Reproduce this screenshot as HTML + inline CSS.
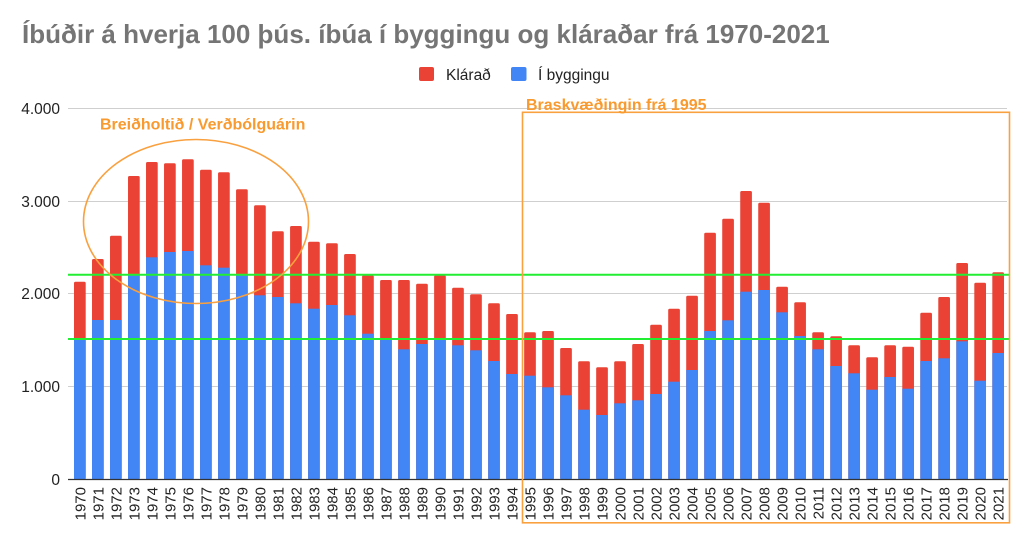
<!DOCTYPE html>
<html><head><meta charset="utf-8"><style>
html,body{margin:0;padding:0;background:#fff;}
svg{display:block;font-family:"Liberation Sans",Arial,sans-serif;}
.r{fill:#EA4335}.b{fill:#4285F4}
.xl{font-size:15px;fill:#222;text-anchor:end}
.yl{font-size:15.5px;fill:#222;text-anchor:end}
</style></head><body>
<svg width="1024" height="536" viewBox="0 0 1024 536" xmlns="http://www.w3.org/2000/svg">
<rect width="1024" height="536" fill="#fff"/>
<text x="22" y="43" font-size="26" font-weight="bold" fill="#757575">Íbúðir á hverja 100 þús. íbúa í byggingu og kláraðar frá 1970-2021</text>
<rect x="419" y="67" width="15" height="14" rx="2" fill="#EA4335"/>
<text x="446" y="80" font-size="15.5" fill="#222">Klárað</text>
<rect x="511" y="67" width="15.5" height="14" rx="2" fill="#4285F4"/>
<text x="538" y="80" font-size="15.5" fill="#222">Í byggingu</text>
<g stroke="#cfcfcf" stroke-width="1">
<line x1="68" y1="108.5" x2="1007" y2="108.5"/>
<line x1="68" y1="201.5" x2="1007" y2="201.5"/>
<line x1="68" y1="293.5" x2="1007" y2="293.5"/>
<line x1="68" y1="386.5" x2="1007" y2="386.5"/>
</g>
<text class="yl" x="60" y="114">4.000</text>
<text class="yl" x="60" y="207">3.000</text>
<text class="yl" x="60" y="299">2.000</text>
<text class="yl" x="60" y="392">1.000</text>
<text class="yl" x="60" y="485">0</text>
<g>
<rect class="r" x="74.00" y="281.7" width="11.7" height="197.3" rx="1.5"/><rect class="b" x="74.00" y="340" width="11.7" height="139"/>
<rect class="r" x="92.01" y="259" width="11.7" height="220" rx="1.5"/><rect class="b" x="92.01" y="320" width="11.7" height="159"/>
<rect class="r" x="110.01" y="235.7" width="11.7" height="243.3" rx="1.5"/><rect class="b" x="110.01" y="320" width="11.7" height="159"/>
<rect class="r" x="128.02" y="176" width="11.7" height="303" rx="1.5"/><rect class="b" x="128.02" y="274.3" width="11.7" height="204.7"/>
<rect class="r" x="146.02" y="162" width="11.7" height="317" rx="1.5"/><rect class="b" x="146.02" y="257.3" width="11.7" height="221.7"/>
<rect class="r" x="164.03" y="163.3" width="11.7" height="315.7" rx="1.5"/><rect class="b" x="164.03" y="252" width="11.7" height="227"/>
<rect class="r" x="182.04" y="159.3" width="11.7" height="319.7" rx="1.5"/><rect class="b" x="182.04" y="251" width="11.7" height="228"/>
<rect class="r" x="200.04" y="169.7" width="11.7" height="309.3" rx="1.5"/><rect class="b" x="200.04" y="265.3" width="11.7" height="213.7"/>
<rect class="r" x="218.05" y="172.3" width="11.7" height="306.7" rx="1.5"/><rect class="b" x="218.05" y="267.7" width="11.7" height="211.3"/>
<rect class="r" x="236.05" y="189.3" width="11.7" height="289.7" rx="1.5"/><rect class="b" x="236.05" y="274" width="11.7" height="205"/>
<rect class="r" x="254.06" y="205.3" width="11.7" height="273.7" rx="1.5"/><rect class="b" x="254.06" y="295.3" width="11.7" height="183.7"/>
<rect class="r" x="272.07" y="231.3" width="11.7" height="247.7" rx="1.5"/><rect class="b" x="272.07" y="297" width="11.7" height="182"/>
<rect class="r" x="290.07" y="226" width="11.7" height="253" rx="1.5"/><rect class="b" x="290.07" y="303.3" width="11.7" height="175.7"/>
<rect class="r" x="308.08" y="241.7" width="11.7" height="237.3" rx="1.5"/><rect class="b" x="308.08" y="308.7" width="11.7" height="170.3"/>
<rect class="r" x="326.08" y="243.3" width="11.7" height="235.7" rx="1.5"/><rect class="b" x="326.08" y="305" width="11.7" height="174"/>
<rect class="r" x="344.09" y="254" width="11.7" height="225" rx="1.5"/><rect class="b" x="344.09" y="315.3" width="11.7" height="163.7"/>
<rect class="r" x="362.10" y="275.3" width="11.7" height="203.7" rx="1.5"/><rect class="b" x="362.10" y="333.7" width="11.7" height="145.3"/>
<rect class="r" x="380.10" y="280" width="11.7" height="199" rx="1.5"/><rect class="b" x="380.10" y="339" width="11.7" height="140"/>
<rect class="r" x="398.11" y="280" width="11.7" height="199" rx="1.5"/><rect class="b" x="398.11" y="349.3" width="11.7" height="129.7"/>
<rect class="r" x="416.11" y="283.7" width="11.7" height="195.3" rx="1.5"/><rect class="b" x="416.11" y="344" width="11.7" height="135"/>
<rect class="r" x="434.12" y="275.3" width="11.7" height="203.7" rx="1.5"/><rect class="b" x="434.12" y="339" width="11.7" height="140"/>
<rect class="r" x="452.13" y="287.7" width="11.7" height="191.3" rx="1.5"/><rect class="b" x="452.13" y="345.3" width="11.7" height="133.7"/>
<rect class="r" x="470.13" y="294.3" width="11.7" height="184.7" rx="1.5"/><rect class="b" x="470.13" y="350.3" width="11.7" height="128.7"/>
<rect class="r" x="488.14" y="303.3" width="11.7" height="175.7" rx="1.5"/><rect class="b" x="488.14" y="361" width="11.7" height="118"/>
<rect class="r" x="506.14" y="314" width="11.7" height="165" rx="1.5"/><rect class="b" x="506.14" y="374" width="11.7" height="105"/>
<rect class="r" x="524.15" y="332.3" width="11.7" height="146.7" rx="1.5"/><rect class="b" x="524.15" y="375.7" width="11.7" height="103.3"/>
<rect class="r" x="542.16" y="331" width="11.7" height="148" rx="1.5"/><rect class="b" x="542.16" y="387.3" width="11.7" height="91.7"/>
<rect class="r" x="560.16" y="348" width="11.7" height="131" rx="1.5"/><rect class="b" x="560.16" y="395.3" width="11.7" height="83.7"/>
<rect class="r" x="578.17" y="361.3" width="11.7" height="117.7" rx="1.5"/><rect class="b" x="578.17" y="409.7" width="11.7" height="69.3"/>
<rect class="r" x="596.17" y="367.3" width="11.7" height="111.7" rx="1.5"/><rect class="b" x="596.17" y="415" width="11.7" height="64"/>
<rect class="r" x="614.18" y="361.3" width="11.7" height="117.7" rx="1.5"/><rect class="b" x="614.18" y="403.3" width="11.7" height="75.7"/>
<rect class="r" x="632.19" y="344" width="11.7" height="135" rx="1.5"/><rect class="b" x="632.19" y="400.3" width="11.7" height="78.7"/>
<rect class="r" x="650.19" y="324.7" width="11.7" height="154.3" rx="1.5"/><rect class="b" x="650.19" y="394" width="11.7" height="85"/>
<rect class="r" x="668.20" y="308.7" width="11.7" height="170.3" rx="1.5"/><rect class="b" x="668.20" y="381.7" width="11.7" height="97.3"/>
<rect class="r" x="686.20" y="295.7" width="11.7" height="183.3" rx="1.5"/><rect class="b" x="686.20" y="370" width="11.7" height="109"/>
<rect class="r" x="704.21" y="232.7" width="11.7" height="246.3" rx="1.5"/><rect class="b" x="704.21" y="331" width="11.7" height="148"/>
<rect class="r" x="722.22" y="218.7" width="11.7" height="260.3" rx="1.5"/><rect class="b" x="722.22" y="320.3" width="11.7" height="158.7"/>
<rect class="r" x="740.22" y="191" width="11.7" height="288" rx="1.5"/><rect class="b" x="740.22" y="291.7" width="11.7" height="187.3"/>
<rect class="r" x="758.23" y="202.7" width="11.7" height="276.3" rx="1.5"/><rect class="b" x="758.23" y="290" width="11.7" height="189"/>
<rect class="r" x="776.23" y="286.7" width="11.7" height="192.3" rx="1.5"/><rect class="b" x="776.23" y="312.3" width="11.7" height="166.7"/>
<rect class="r" x="794.24" y="302.3" width="11.7" height="176.7" rx="1.5"/><rect class="b" x="794.24" y="336" width="11.7" height="143"/>
<rect class="r" x="812.25" y="332.3" width="11.7" height="146.7" rx="1.5"/><rect class="b" x="812.25" y="349.3" width="11.7" height="129.7"/>
<rect class="r" x="830.25" y="336.3" width="11.7" height="142.7" rx="1.5"/><rect class="b" x="830.25" y="366" width="11.7" height="113"/>
<rect class="r" x="848.26" y="345.3" width="11.7" height="133.7" rx="1.5"/><rect class="b" x="848.26" y="373.3" width="11.7" height="105.7"/>
<rect class="r" x="866.26" y="357.3" width="11.7" height="121.7" rx="1.5"/><rect class="b" x="866.26" y="389.7" width="11.7" height="89.3"/>
<rect class="r" x="884.27" y="345.3" width="11.7" height="133.7" rx="1.5"/><rect class="b" x="884.27" y="377" width="11.7" height="102"/>
<rect class="r" x="902.28" y="346.7" width="11.7" height="132.3" rx="1.5"/><rect class="b" x="902.28" y="388.7" width="11.7" height="90.3"/>
<rect class="r" x="920.28" y="312.7" width="11.7" height="166.3" rx="1.5"/><rect class="b" x="920.28" y="361" width="11.7" height="118"/>
<rect class="r" x="938.29" y="297" width="11.7" height="182" rx="1.5"/><rect class="b" x="938.29" y="358.3" width="11.7" height="120.7"/>
<rect class="r" x="956.29" y="263" width="11.7" height="216" rx="1.5"/><rect class="b" x="956.29" y="341.3" width="11.7" height="137.7"/>
<rect class="r" x="974.30" y="282.7" width="11.7" height="196.3" rx="1.5"/><rect class="b" x="974.30" y="380.7" width="11.7" height="98.3"/>
<rect class="r" x="992.31" y="272.3" width="11.7" height="206.7" rx="1.5"/><rect class="b" x="992.31" y="353" width="11.7" height="126"/>
</g>
<line x1="68" y1="479.5" x2="1008" y2="479.5" stroke="#333" stroke-width="1.2"/>
<line x1="68" y1="274.7" x2="1009" y2="274.7" stroke="#22EE33" stroke-width="2"/>
<line x1="68" y1="339" x2="1009" y2="339" stroke="#22EE33" stroke-width="2"/>
<ellipse cx="196" cy="221.5" rx="112.5" ry="82" fill="none" stroke="#F9A03F" stroke-width="1.6"/>
<rect x="522.5" y="112.3" width="487" height="410.5" fill="none" stroke="#F9A03F" stroke-width="1.6"/>
<text x="100" y="129.5" font-size="16" font-weight="bold" fill="#F99A2E">Breiðholtið / Verðbólguárin</text>
<text x="526" y="110" font-size="16" font-weight="bold" fill="#F99A2E">Braskvæðingin frá 1995</text>
<g class="xl">
<text transform="translate(85.25,487) rotate(-90)">1970</text>
<text transform="translate(103.26,487) rotate(-90)">1971</text>
<text transform="translate(121.26,487) rotate(-90)">1972</text>
<text transform="translate(139.27,487) rotate(-90)">1973</text>
<text transform="translate(157.27,487) rotate(-90)">1974</text>
<text transform="translate(175.28,487) rotate(-90)">1975</text>
<text transform="translate(193.29,487) rotate(-90)">1976</text>
<text transform="translate(211.29,487) rotate(-90)">1977</text>
<text transform="translate(229.30,487) rotate(-90)">1978</text>
<text transform="translate(247.30,487) rotate(-90)">1979</text>
<text transform="translate(265.31,487) rotate(-90)">1980</text>
<text transform="translate(283.32,487) rotate(-90)">1981</text>
<text transform="translate(301.32,487) rotate(-90)">1982</text>
<text transform="translate(319.33,487) rotate(-90)">1983</text>
<text transform="translate(337.33,487) rotate(-90)">1984</text>
<text transform="translate(355.34,487) rotate(-90)">1985</text>
<text transform="translate(373.35,487) rotate(-90)">1986</text>
<text transform="translate(391.35,487) rotate(-90)">1987</text>
<text transform="translate(409.36,487) rotate(-90)">1988</text>
<text transform="translate(427.36,487) rotate(-90)">1989</text>
<text transform="translate(445.37,487) rotate(-90)">1990</text>
<text transform="translate(463.38,487) rotate(-90)">1991</text>
<text transform="translate(481.38,487) rotate(-90)">1992</text>
<text transform="translate(499.39,487) rotate(-90)">1993</text>
<text transform="translate(517.39,487) rotate(-90)">1994</text>
<text transform="translate(535.40,487) rotate(-90)">1995</text>
<text transform="translate(553.41,487) rotate(-90)">1996</text>
<text transform="translate(571.41,487) rotate(-90)">1997</text>
<text transform="translate(589.42,487) rotate(-90)">1998</text>
<text transform="translate(607.42,487) rotate(-90)">1999</text>
<text transform="translate(625.43,487) rotate(-90)">2000</text>
<text transform="translate(643.44,487) rotate(-90)">2001</text>
<text transform="translate(661.44,487) rotate(-90)">2002</text>
<text transform="translate(679.45,487) rotate(-90)">2003</text>
<text transform="translate(697.45,487) rotate(-90)">2004</text>
<text transform="translate(715.46,487) rotate(-90)">2005</text>
<text transform="translate(733.47,487) rotate(-90)">2006</text>
<text transform="translate(751.47,487) rotate(-90)">2007</text>
<text transform="translate(769.48,487) rotate(-90)">2008</text>
<text transform="translate(787.48,487) rotate(-90)">2009</text>
<text transform="translate(805.49,487) rotate(-90)">2010</text>
<text transform="translate(823.50,487) rotate(-90)">2011</text>
<text transform="translate(841.50,487) rotate(-90)">2012</text>
<text transform="translate(859.51,487) rotate(-90)">2013</text>
<text transform="translate(877.51,487) rotate(-90)">2014</text>
<text transform="translate(895.52,487) rotate(-90)">2015</text>
<text transform="translate(913.53,487) rotate(-90)">2016</text>
<text transform="translate(931.53,487) rotate(-90)">2017</text>
<text transform="translate(949.54,487) rotate(-90)">2018</text>
<text transform="translate(967.54,487) rotate(-90)">2019</text>
<text transform="translate(985.55,487) rotate(-90)">2020</text>
<text transform="translate(1003.56,487) rotate(-90)">2021</text>
</g>
</svg>
</body></html>
